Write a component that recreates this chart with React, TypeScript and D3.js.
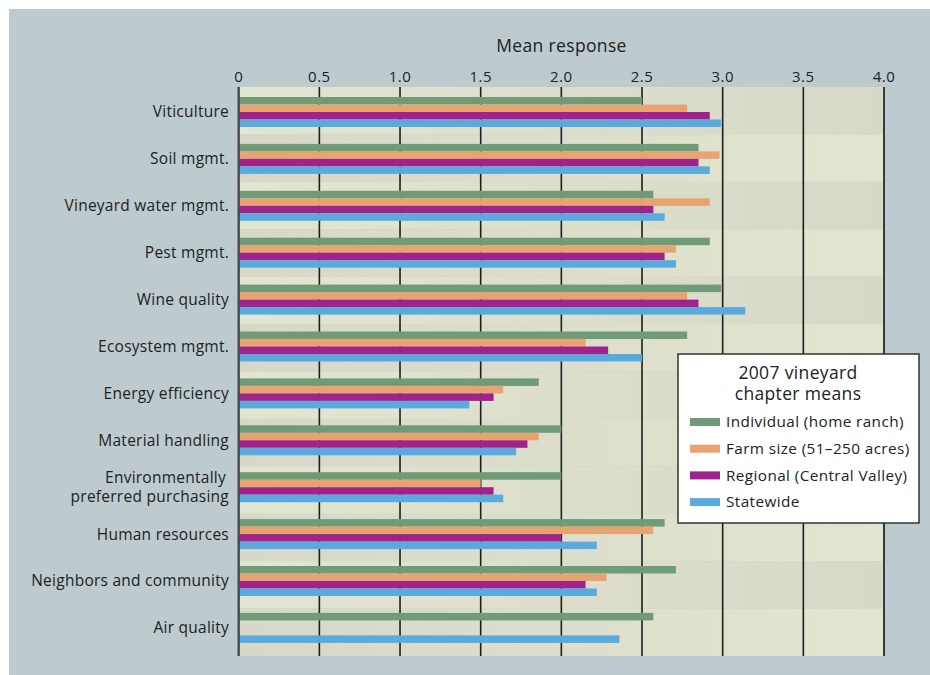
import React from "react";
import * as d3 from "d3";

const categories = [
  "Viticulture",
  "Soil mgmt.",
  "Vineyard water mgmt.",
  "Pest mgmt.",
  "Wine quality",
  "Ecosystem mgmt.",
  "Energy efficiency",
  "Material handling",
  "Environmentally preferred purchasing",
  "Human resources",
  "Neighbors and community",
  "Air quality",
];

const seriesNames = [
  "Individual (home ranch)",
  "Farm size (51–250 acres)",
  "Regional (Central Valley)",
  "Statewide",
];

const individual = [2.5, 2.85, 2.57, 2.92, 2.99, 2.78, 1.86, 2.0, 2.0, 2.64, 2.71, 2.57];
const farmSize = [2.78, 2.98, 2.92, 2.71, 2.78, 2.15, 1.64, 1.86, 1.5, 2.57, 2.28, null];
const regional = [2.92, 2.85, 2.57, 2.64, 2.85, 2.29, 1.58, 1.79, 1.58, 2.0, 2.15, null];
const statewide = [2.99, 2.92, 2.64, 2.71, 3.14, 2.5, 1.43, 1.72, 1.64, 2.22, 2.22, 2.36];

const xTicks = [0, 0.5, 1.0, 1.5, 2.0, 2.5, 3.0, 3.5, 4.0];
const xTickLabels = ["0", "0.5", "1.0", "1.5", "2.0", "2.5", "3.0", "3.5", "4.0"];

const seriesColors = ["#6f9b77", "#e8a373", "#a0228c", "#5aaadd"];
const legendTitle = ["2007 vineyard", "chapter means"];
const axisTitle = "Mean response";

const FONT = "'Open Sans', 'Noto Sans', sans-serif";

export default function App() {
  const seriesValues = [individual, farmSize, regional, statewide];
  const x = d3.scaleLinear().domain([0, 4]).range([238.7, 884]);
  const bandY = d3.scaleBand<string>().domain(categories).range([87, 656]).padding(0);
  const groupY = d3.scaleBand<string>().domain(categories).range([92, 92 + 12 * 46.9]).padding(0);
  const inner = d3.scaleBand<string>().domain(seriesNames).range([5, 35]).padding(0);

  const light = "#e2e5cf";
  const dark = "#d7d8c8";

  return (
    <svg
      width={930}
      height={675}
      style={{ position: "absolute", left: 0, top: 0, display: "block" }}
      fontFamily={FONT}
    >
      <defs>
        <linearGradient id="gOdd" x1="0" x2="1" y1="0" y2="0">
          <stop offset="0" stopColor={light} />
          <stop offset="1" stopColor={dark} />
        </linearGradient>
        <linearGradient id="gEven" x1="0" x2="1" y1="0" y2="0">
          <stop offset="0" stopColor={dark} />
          <stop offset="1" stopColor={light} />
        </linearGradient>
      </defs>
      <rect x={0} y={0} width={930} height={675} fill="#ffffff" />
      <rect x={9} y={9} width={921} height={666} fill="#bdcbce" />

      {/* background bands */}
      {categories.map((c, i) => (
        <rect
          key={"band" + i}
          x={x(0)}
          y={bandY(c)}
          width={x(4) - x(0)}
          height={bandY.bandwidth()}
          fill={i % 2 === 0 ? "url(#gOdd)" : "url(#gEven)"}
        />
      ))}

      {/* grid lines */}
      {xTicks.slice(1, -1).map((t) => (
        <line
          key={"g" + t}
          x1={x(t)}
          x2={x(t)}
          y1={87}
          y2={656}
          stroke="#1e1e1e"
          strokeWidth={1.6}
        />
      ))}
      <line x1={x(4)} x2={x(4)} y1={87} y2={656} stroke="#3a3a3a" strokeWidth={2} />

      {/* bars */}
      {categories.map((c, i) => (
        <g key={"grp" + i} transform={`translate(0,${groupY(c)})`}>
          {seriesValues.map((vals, s) => {
            const v = vals[i];
            if (v == null) return null;
            return (
              <rect
                key={s}
                x={x(0)}
                y={inner(seriesNames[s])}
                width={x(v) - x(0)}
                height={inner.bandwidth()}
                fill={seriesColors[s]}
              />
            );
          })}
        </g>
      ))}

      {/* zero axis */}
      <line x1={x(0)} x2={x(0)} y1={87} y2={656} stroke="#4a4a4a" strokeWidth={2.4} />

      {/* tick labels */}
      {xTicks.map((t, i) => (
        <text
          key={"t" + t}
          x={x(t)}
          y={77}
          dy="0.35em"
          textAnchor="middle"
          fontSize={15}
          letterSpacing={0.5}
          fill="#222"
        >
          {xTickLabels[i]}
        </text>
      ))}
      <text
        x={561.5}
        y={46}
        dy="0.35em"
        textAnchor="middle"
        fontSize={17.5}
        letterSpacing={0.35}
        fill="#222"
      >
        {axisTitle}
      </text>

      {/* category labels */}
      {categories.map((c) => {
        const cy = (groupY(c) as number) + 20;
        if (c === "Environmentally preferred purchasing") {
          return (
            <text
              key={c}
              x={229}
              y={cy}
              textAnchor="end"
              fontSize={15.5}
              letterSpacing={0.25}
              fill="#222"
            >
              <tspan x={226} y={cy - 9.5} dy="0.35em">Environmentally</tspan>
              <tspan x={229} y={cy + 9.5} dy="0.35em">preferred purchasing</tspan>
            </text>
          );
        }
        return (
          <text
            key={c}
            x={229}
            y={cy}
            dy="0.35em"
            textAnchor="end"
            fontSize={15.5}
            letterSpacing={0.25}
            fill="#222"
          >
            {c}
          </text>
        );
      })}

      {/* legend */}
      <g>
        <rect x={678} y={354} width={241} height={169} fill="#ffffff" stroke="#333" strokeWidth={1.5} />
        <text
          x={798}
          y={373}
          dy="0.35em"
          textAnchor="middle"
          fontSize={17.5}
          letterSpacing={0.35}
          fill="#222"
        >
          {legendTitle[0]}
        </text>
        <text
          x={798}
          y={394}
          dy="0.35em"
          textAnchor="middle"
          fontSize={17.5}
          letterSpacing={0.35}
          fill="#222"
        >
          {legendTitle[1]}
        </text>
        {seriesNames.map((s, i) => (
          <g key={s} transform={`translate(0,${422 + i * 26.7})`}>
            <rect x={690} y={-4} width={30} height={8} fill={seriesColors[i]} />
            <text x={726} y={0} dy="0.35em" fontSize={15.3} letterSpacing={0.4} fill="#222">
              {s}
            </text>
          </g>
        ))}
      </g>
    </svg>
  );
}
